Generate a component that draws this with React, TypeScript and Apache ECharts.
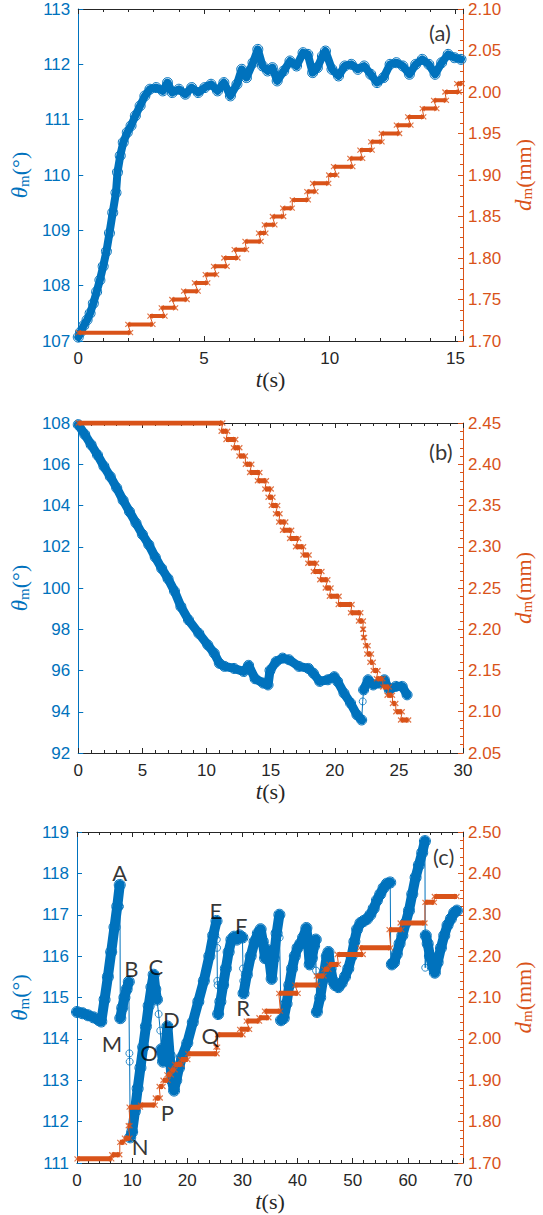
import React, { useEffect, useRef } from 'react';
import * as echarts from 'echarts';

const BLUE = '#0072BD';
const ORANGE = '#D95319';
const DARK = '#262626';
const SANS = '"Liberation Sans", Arial, sans-serif';
const NOTE = 'Lato, "Open Sans", sans-serif';
const SERIF = '"Liberation Serif", "DejaVu Serif", serif';

// ---------- Panel (a) ----------
const aTime = [0, 0.09, 0.22, 0.35, 0.47, 0.6, 0.73, 0.86, 0.99, 1.12, 1.24, 1.37, 1.5, 1.56, 1.67, 1.79, 1.95, 2.1, 2.27, 2.46, 2.65, 2.85, 3.1, 3.36, 3.55, 3.74, 4.0, 4.26, 4.51, 4.77, 5.03, 5.28, 5.54, 5.79, 6.05, 6.31, 6.5, 6.69, 6.95, 7.14, 7.33, 7.53, 7.72, 7.91, 8.17, 8.42, 8.68, 8.94, 9.13, 9.32, 9.51, 9.71, 9.83, 10.09, 10.35, 10.6, 10.86, 11.12, 11.37, 11.63, 11.88, 12.14, 12.4, 12.65, 12.91, 13.17, 13.42, 13.68, 13.94, 14.19, 14.45, 14.71, 14.96, 15.22];
const aTheta = [107.07, 107.16, 107.28, 107.38, 107.5, 107.68, 107.89, 108.1, 108.35, 108.62, 108.95, 109.32, 109.68, 110.05, 110.35, 110.59, 110.77, 110.89, 111.07, 111.25, 111.43, 111.55, 111.58, 111.52, 111.67, 111.49, 111.55, 111.46, 111.58, 111.49, 111.58, 111.64, 111.52, 111.67, 111.43, 111.64, 111.91, 111.76, 112.03, 112.27, 111.97, 111.88, 111.94, 111.7, 111.88, 112.06, 111.97, 112.21, 112.18, 111.85, 111.94, 112.15, 112.24, 111.91, 111.79, 111.97, 112.0, 111.91, 111.97, 111.82, 111.67, 111.76, 112.0, 112.03, 111.97, 111.82, 112.0, 112.09, 112.0, 111.82, 112.03, 112.18, 112.12, 112.09];
const aDropTime: number[] = [];
const aDropTheta: number[] = [];
const aStepVal = [1.71, 1.72, 1.73, 1.74, 1.75, 1.76, 1.77, 1.78, 1.79, 1.8, 1.81, 1.82, 1.83, 1.84, 1.85, 1.86, 1.87, 1.88, 1.89, 1.9, 1.91, 1.92, 1.93, 1.94, 1.95, 1.96, 1.97, 1.98, 1.99, 2.0, 2.01];
const aStepStart = [0, 1.97, 2.85, 3.3, 3.72, 4.19, 4.62, 5.05, 5.38, 5.79, 6.2, 6.63, 7.17, 7.4, 7.72, 8.13, 8.51, 9.09, 9.32, 9.96, 10.15, 10.8, 11.2, 11.63, 12.05, 12.65, 13.1, 13.68, 14.13, 14.58, 15.05];
const aStepEnd = [2.08, 2.97, 3.45, 3.87, 4.33, 4.77, 5.15, 5.5, 5.92, 6.35, 6.69, 7.27, 7.46, 7.82, 8.17, 8.51, 9.15, 9.45, 9.96, 10.28, 10.92, 11.31, 11.69, 12.08, 12.78, 13.23, 13.74, 14.26, 14.64, 15.15, 15.27];

// ---------- Panel (b) ----------
const bTime = [0, 0.5, 1.0, 1.5, 2.0, 2.5, 3.0, 3.5, 4.0, 4.5, 5.0, 5.5, 6.0, 6.5, 7.0, 7.5, 8.0, 8.6, 9.4, 10.1, 10.6, 11.0, 11.4, 12.15, 12.9, 13.28, 13.79, 14.42, 14.8, 14.95, 15.43, 15.93, 16.44, 17.2, 17.95, 18.33, 18.83, 19.46, 19.96, 20.22, 20.72, 21.23, 21.73, 22.1, 22.25, 22.6, 23.0, 23.5, 23.87, 24.25, 24.76, 25.26, 25.64];
const bTheta = [107.92, 107.45, 106.95, 106.45, 105.9, 105.4, 104.85, 104.25, 103.7, 103.15, 102.6, 102.1, 101.5, 100.95, 100.45, 99.85, 99.1, 98.45, 97.8, 97.24, 96.84, 96.35, 96.2, 96.1, 95.95, 96.25, 95.6, 95.39, 95.3, 96.0, 96.43, 96.6, 96.52, 96.2, 96.1, 95.87, 95.47, 95.55, 95.7, 95.47, 94.9, 94.42, 93.85, 93.6, 95.06, 95.55, 95.3, 95.39, 95.55, 95.06, 95.23, 95.23, 94.82];
const bDropTime = [22.18];
const bDropTheta = [94.5];
const bStepVal = [2.45, 2.44, 2.43, 2.42, 2.41, 2.4, 2.39, 2.38, 2.37, 2.36, 2.35, 2.34, 2.33, 2.32, 2.31, 2.3, 2.29, 2.28, 2.27, 2.26, 2.25, 2.24, 2.23, 2.22, 2.21, 2.2, 2.19, 2.18, 2.17, 2.16, 2.15, 2.14, 2.13, 2.12, 2.11, 2.1, 2.09];
const bStepStart = [0, 11.14, 11.52, 12.1, 12.53, 13.03, 13.36, 13.97, 14.55, 14.8, 15.05, 15.38, 15.63, 15.93, 16.48, 16.94, 17.52, 17.9, 18.33, 18.83, 19.26, 19.58, 20.27, 21.23, 21.85, 22.18, 22.24, 22.4, 22.5, 22.74, 23.0, 23.25, 23.75, 24.08, 24.5, 24.76, 25.13];
const bStepEnd = [11.27, 11.65, 12.28, 12.6, 13.03, 13.53, 14.16, 14.67, 15.05, 15.18, 15.55, 15.73, 16.18, 16.64, 17.19, 17.57, 18.0, 18.58, 19.0, 19.46, 19.71, 20.34, 21.35, 22.03, 22.23, 22.24, 22.32, 22.6, 22.86, 23.0, 23.37, 23.75, 24.25, 24.5, 24.76, 25.26, 25.76];

// ---------- Panel (c) ----------
const cTime = [0, 1, 2, 3, 4, 4.4, 5, 5.6, 6.2, 6.8, 7.3, 7.75,
  7.85, 8.2, 8.6, 9.0, 9.4,
  9.65, 10.0, 10.5, 11.0, 11.5, 12.0, 12.5, 13.0, 13.5, 13.9, 14.2, 14.5,
  15.3, 15.6, 16.0, 16.4, 16.8, 17.2, 17.6, 18.0, 18.5, 19.0, 20.0, 21.0, 22.0, 23.0, 24.0, 24.7, 25.3,
  25.6, 26.0, 26.5, 27.0, 27.5, 28.0, 28.5, 29.0, 29.5, 30.0,
  30.2, 30.8, 31.5, 32.2, 32.8, 33.3, 33.7, 34.1, 34.5, 34.9, 35.3, 35.7, 36.2, 36.7,
  37.0, 37.5, 38.0, 38.5, 39.0, 39.5, 40.0, 40.5, 41.0, 41.6, 41.9, 42.2, 42.6, 43.0, 43.3,
  43.5, 44.1, 44.7, 45.3, 45.6, 46.0, 46.4, 46.8, 47.4, 48.0, 48.6, 49.2, 49.8, 50.3, 50.8, 51.4, 52.0, 52.6, 53.2, 53.8, 54.4, 55.0, 55.6, 56.2, 56.8,
  57.1, 57.5, 58.0, 58.5, 59.0, 59.6, 60.2, 60.8, 61.4, 62.0, 62.6, 63.1,
  63.25, 63.6, 64.0, 64.5, 64.9, 65.4, 66.0, 66.6, 67.2, 67.8, 68.4, 68.9];
const cTheta = [114.65, 114.62, 114.57, 114.52, 114.45, 114.42, 114.95, 115.5, 116.1, 116.7, 117.2, 117.72,
  114.5, 114.75, 115.0, 115.2, 115.38,
  111.62, 111.75, 112.25, 112.8, 113.3, 113.8, 114.3, 114.8, 115.25, 115.55, 115.2, 114.95,
  113.75, 113.45, 113.75, 114.3, 113.6, 113.0, 112.75, 113.0, 113.3, 113.55, 113.9, 114.4, 114.9, 115.4, 116.0, 116.5, 116.85,
  114.6, 114.9, 115.3, 115.7, 116.1, 116.4, 116.47, 116.4, 116.5, 116.45,
  115.1, 115.55, 116.0, 116.35, 116.55, 116.65, 116.35, 115.95, 116.15, 115.9, 115.45, 115.95, 116.55, 117.0,
  114.45, 114.5, 114.85, 115.3, 115.7, 116.0, 116.2, 116.3, 116.45, 116.68, 116.3, 115.8, 115.95, 116.25, 116.4,
  114.65, 115.0, 115.5, 116.0, 116.1, 115.7, 115.4, 115.3, 115.25, 115.35, 115.5, 115.7, 116.0, 116.35, 116.65, 116.8, 116.85, 116.9, 117.0, 117.15, 117.35, 117.5, 117.65, 117.75, 117.78,
  115.8, 115.85, 116.05, 116.3, 116.5, 116.8, 117.1, 117.5, 117.9, 118.2, 118.5, 118.78,
  116.5, 116.3, 116.0, 115.75, 115.6, 115.85, 116.2, 116.5, 116.75, 116.9, 117.05, 117.1];
const cDropTime = [7.8, 9.5, 9.55, 14.8, 15.1, 25.35, 25.4, 25.45, 25.5, 30.1, 30.15, 36.75, 43.35, 56.9, 63.15];
const cDropTheta = [117.2, 113.65, 113.45, 114.6, 114.2, 116.4, 116.2, 115.4, 115.3, 115.7, 115.4, 116.45, 115.65, 115.85, 115.72];
const cStepVal = [1.71, 1.72, 1.75, 1.76, 1.79, 1.835, 1.84, 1.857, 1.885, 1.9, 1.913, 1.925, 1.938, 1.95, 1.964, 1.98, 2.01, 2.023, 2.043, 2.051, 2.067, 2.11, 2.13, 2.152, 2.168, 2.18, 2.204, 2.22, 2.264, 2.28, 2.33, 2.344];
const cStepStart = [0, 6.3, 7.76, 8.6, 9.3, 9.45, 11.5, 14.2, 14.9, 15.6, 16.3, 17.0, 17.7, 18.8, 20.1, 25.2, 25.5, 29.5, 30.7, 33.0, 34.0, 36.6, 39.5, 43.4, 44.8, 45.7, 47.2, 51.3, 56.6, 58.6, 63.1, 64.8];
const cStepEnd = [6.3, 7.76, 8.6, 9.6, 9.6, 11.5, 14.2, 15.1, 15.6, 16.5, 17.1, 17.8, 19.0, 20.1, 25.4, 25.5, 30.1, 31.3, 33.1, 34.8, 36.9, 40.1, 43.6, 44.8, 45.7, 47.4, 51.9, 56.9, 58.9, 63.1, 64.8, 68.9];

// ---------- annotations ----------
const aLabels = [{ name: '(a)', t: 14.38, v: 112.57 }];
const bLabels = [{ name: '(b)', t: 28.27, v: 106.6 }];
const cLabels = [
  { name: '(c)', t: 66.5, v: 118.4 },
  { name: 'A', t: 7.76, v: 118.03 },
  { name: 'B', t: 9.87, v: 115.71 },
  { name: 'C', t: 14.28, v: 115.74 },
  { name: 'D', t: 17.1, v: 114.46 },
  { name: 'E', t: 25.2, v: 117.11 },
  { name: 'F', t: 29.8, v: 116.75 },
  { name: 'M', t: 6.35, v: 113.9 },
  { name: 'N', t: 11.46, v: 111.39 },
  { name: 'O', t: 13.05, v: 113.66 },
  { name: 'P', t: 16.4, v: 112.23 },
  { name: 'Q', t: 24.16, v: 114.07 },
  { name: 'R', t: 30.15, v: 114.75 },
];

type Pt = { t: number; v: number; drop: boolean };

function merged(t: number[], v: number[], dt: number[], dv: number[]): Pt[] {
  const pts: Pt[] = [];
  t.forEach((x, i) => pts.push({ t: x, v: v[i], drop: false }));
  dt.forEach((x, i) => pts.push({ t: x, v: dv[i], drop: true }));
  pts.sort((p, q) => p.t - q.t);
  return pts;
}

function thetaSeries(t: number[], v: number[], dt: number[], dv: number[], xi: number, yi: number, width: number, sym: number): any[] {
  const pts = merged(t, v, dt, dv);
  const thick = pts.map((p) => (p.drop ? [p.t, '-'] : [p.t, p.v]));
  const thin = pts.map((p) => [p.t, p.v]);
  const drops = pts.filter((p) => p.drop).map((p) => [p.t, p.v]);
  return [
    {
      type: 'line', xAxisIndex: xi, yAxisIndex: yi, data: thin, showSymbol: false,
      lineStyle: { color: BLUE, width: 1 }, z: 2, silent: true,
    },
    {
      type: 'line', xAxisIndex: xi, yAxisIndex: yi, data: thick, connectNulls: false,
      symbol: 'circle', symbolSize: sym, showSymbol: true, showAllSymbol: true,
      itemStyle: { color: 'rgba(0,0,0,0)', borderColor: BLUE, borderWidth: 1 },
      lineStyle: { color: BLUE, width, join: 'round', cap: 'round' }, z: 3, silent: true,
    },
    {
      type: 'scatter', xAxisIndex: xi, yAxisIndex: yi, data: drops, symbol: 'circle', symbolSize: 7,
      itemStyle: { color: 'rgba(0,0,0,0)', borderColor: BLUE, borderWidth: 1 }, z: 3, silent: true,
    },
  ];
}

function stepSeries(val: number[], st: number[], en: number[], xi: number, yi: number, width: number): any[] {
  const thick: any[] = [];
  const thin: any[] = [];
  const marks: any[] = [];
  val.forEach((d, k) => {
    thick.push([st[k], d], [en[k], d], [en[k], '-']);
    thin.push([st[k], d], [en[k], d]);
    marks.push([st[k], d], [en[k], d]);
  });
  return [
    { type: 'line', xAxisIndex: xi, yAxisIndex: yi, data: thin, showSymbol: false, lineStyle: { color: ORANGE, width: 1 }, z: 5, silent: true },
    { type: 'line', xAxisIndex: xi, yAxisIndex: yi, data: thick, showSymbol: false, connectNulls: false, lineStyle: { color: ORANGE, width, cap: 'butt' }, z: 6, silent: true },
    {
      type: 'scatter', xAxisIndex: xi, yAxisIndex: yi, data: marks, symbol: 'path://M0,0L10,10M10,0L0,10', symbolSize: 5,
      itemStyle: { color: 'none', borderColor: ORANGE, borderWidth: 1.2 }, z: 7, silent: true,
    },
  ];
}

function labelSeries(items: { name: string; t: number; v: number }[], xi: number, yi: number): any {
  return {
    type: 'scatter', xAxisIndex: xi, yAxisIndex: yi, symbolSize: 1, silent: true, z: 10,
    itemStyle: { color: 'rgba(0,0,0,0)' },
    data: items.map((it) => ({ name: it.name, value: [it.t, it.v] })),
    label: { show: true, position: 'inside', formatter: '{b}', color: '#000', fontFamily: NOTE, fontSize: 22 },
  };
}

const panels = [
  { top: 9, height: 332, xMax: 15.3, xInt: 5, yMin: 107, yMax: 113, yInt: 1, dMin: 1.7, dMax: 2.1, dInt: 0.05, dMinor: 4 },
  { top: 423, height: 330, xMax: 30, xInt: 5, yMin: 92, yMax: 108, yInt: 2, dMin: 2.05, dMax: 2.45, dInt: 0.05, dMinor: 5 },
  { top: 832, height: 331, xMax: 70, xInt: 10, yMin: 111, yMax: 119, yInt: 1, dMin: 1.7, dMax: 2.5, dInt: 0.1, dMinor: 5 },
];

const serifRich = (color: string) => ({
  i: { fontFamily: SERIF, fontStyle: 'italic', fontSize: 23, color },
  s: { fontFamily: SERIF, fontSize: 15, color, verticalAlign: 'bottom', lineHeight: 12 },
  n: { fontFamily: SERIF, fontSize: 22, color },
});

function buildOption(): any {
  const grid: any[] = [];
  const xAxis: any[] = [];
  const yAxis: any[] = [];
  panels.forEach((p, i) => {
    grid.push({ left: 66, width: 397, top: p.top, height: p.height, containLabel: false });
    const xCommon = {
      type: 'value', gridIndex: i, min: 0, max: p.xMax, interval: p.xInt,
      splitLine: { show: false },
      axisLine: { show: true, onZero: false, lineStyle: { color: DARK, width: 1 } },
      axisTick: { show: true, inside: true, length: 5, lineStyle: { color: DARK } },
      minorTick: { show: true, splitNumber: 5, length: 3, lineStyle: { color: DARK } },
    };
    xAxis.push({
      ...xCommon, position: 'bottom',
      axisLabel: { color: DARK, fontFamily: SANS, fontSize: 17, margin: 9, showMaxLabel: p.xMax % p.xInt === 0 },
      name: '{i|t}{n|(s)}', nameLocation: 'middle', nameGap: 27,
      nameTextStyle: { rich: serifRich(DARK) },
    });
    xAxis.push({ ...xCommon, position: 'top', axisLabel: { show: false } });
    yAxis.push({
      type: 'value', gridIndex: i, position: 'left', min: p.yMin, max: p.yMax, interval: p.yInt,
      splitLine: { show: false },
      axisLine: { show: true, onZero: false, lineStyle: { color: BLUE, width: 1 } },
      axisTick: { show: true, inside: true, length: 5, lineStyle: { color: BLUE } },
      axisLabel: { color: BLUE, fontFamily: SANS, fontSize: 17, margin: 8 },
      name: '{i|θ}{s|m}{n|(°)}', nameLocation: 'middle', nameGap: 36, nameRotate: 90,
      nameTextStyle: { rich: serifRich(BLUE) },
    });
    yAxis.push({
      type: 'value', gridIndex: i, position: 'right', min: p.dMin, max: p.dMax, interval: p.dInt,
      splitLine: { show: false },
      axisLine: { show: true, onZero: false, lineStyle: { color: ORANGE, width: 1 } },
      axisTick: { show: true, inside: true, length: 5, lineStyle: { color: ORANGE } },
      minorTick: { show: true, splitNumber: p.dMinor, length: 3, lineStyle: { color: ORANGE } },
      axisLabel: { color: ORANGE, fontFamily: SANS, fontSize: 17, margin: 5, formatter: (v: number) => v.toFixed(2) },
      name: '{i|d}{s|m}{n|(mm)}', nameLocation: 'middle', nameGap: 42, nameRotate: 90,
      nameTextStyle: { rich: serifRich(ORANGE) },
    });
  });

  const series: any[] = [
    ...thetaSeries(aTime, aTheta, aDropTime, aDropTheta, 0, 0, 8, 10),
    ...stepSeries(aStepVal, aStepStart, aStepEnd, 0, 1, 4),
    labelSeries(aLabels, 0, 0),
    ...thetaSeries(bTime, bTheta, bDropTime, bDropTheta, 2, 2, 9, 10),
    ...stepSeries(bStepVal, bStepStart, bStepEnd, 2, 3, 5),
    labelSeries(bLabels, 2, 2),
    ...thetaSeries(cTime, cTheta, cDropTime, cDropTheta, 4, 4, 10, 11),
    ...stepSeries(cStepVal, cStepStart, cStepEnd, 4, 5, 5),
    labelSeries(cLabels, 4, 4),
  ];

  return { animation: false, backgroundColor: '#fff', grid, xAxis, yAxis, series };
}

export default function App() {
  const ref = useRef<HTMLDivElement>(null);
  useEffect(() => {
    if (!ref.current) return;
    const chart = echarts.init(ref.current, null, { renderer: 'svg' });
    chart.setOption(buildOption());
    return () => chart.dispose();
  }, []);
  return <div ref={ref} style={{ position: 'absolute', left: 0, top: 0, width: 543, height: 1215 }} />;
}
